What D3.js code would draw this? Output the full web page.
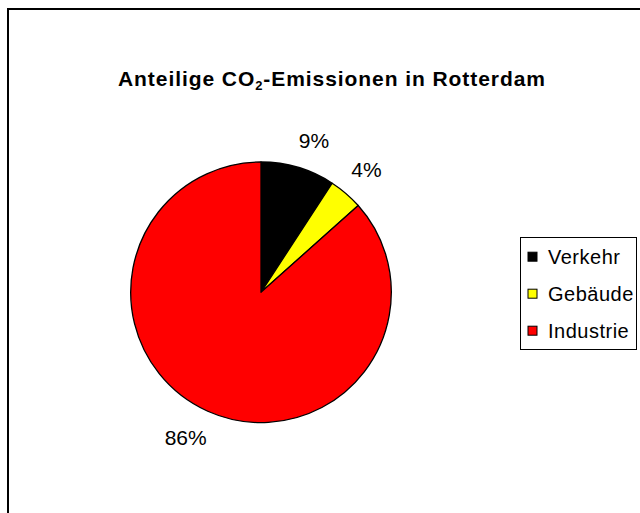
<!DOCTYPE html>
<html><head><meta charset="utf-8">
<script src="https://cdn.jsdelivr.net/npm/d3@7"></script>
<style>body{margin:0;background:#fff;}svg{display:block;font-family:"Liberation Sans",Arial,sans-serif;}</style>
</head><body>
<script>
const categories = ["Verkehr", "Gebäude", "Industrie"];
const values = [9.2, 4.2, 86.6];
const valueLabels = ["9%", "4%", "86%"];
const colors = ["#000000", "#ffff00", "#ff0000"];

const W = 640, H = 513;
const svg = d3.select("body").append("svg").attr("width", W).attr("height", H);
svg.append("rect").attr("width", W).attr("height", H).attr("fill", "#fff");
// chart border
svg.append("rect").attr("x", 8).attr("y", 9).attr("width", 700).attr("height", 600)
  .attr("fill", "none").attr("stroke", "#000").attr("stroke-width", 2);

// title
const title = svg.append("text").attr("x", 331.5).attr("y", 86).attr("text-anchor", "middle")
  .attr("font-weight", "bold").attr("font-size", 21).attr("fill", "#000")
  .attr("textLength", 427).attr("lengthAdjust", "spacing");
title.append("tspan").text("Anteilige CO");
title.append("tspan").attr("font-size", 13).attr("dy", 4).text("2");
title.append("tspan").attr("dy", -4).text("-Emissionen in Rotterdam");

const cx = 261, cy = 292.3, R = 130.3;
const pie = d3.pie().sort(null).value(d => d)(values);
const arc = d3.arc().innerRadius(0).outerRadius(R);
const g = svg.append("g").attr("transform", `translate(${cx},${cy})`);
g.selectAll("path").data(pie).join("path")
  .attr("d", arc).attr("fill", (d, i) => colors[i])
  .attr("stroke", "#000").attr("stroke-width", 1.3).attr("stroke-linejoin", "round");

// labels
const lr = R + 13;
g.selectAll("text.lbl").data(pie).join("text").attr("class", "lbl")
  .attr("font-size", 21).attr("fill", "#000").attr("text-anchor", "middle")
  .attr("dominant-baseline", "central")
  .each(function (d, i) {
    const a = (d.startAngle + d.endAngle) / 2;
    const sx = Math.sin(a), sy = -Math.cos(a);
    const t = d3.select(this).text(valueLabels[i]);
    const bb = this.getBBox();
    const x = lr * sx + Math.sign(sx) * bb.width * 0.4;
    const y = lr * sy + Math.sign(sy) * 14;
    t.attr("x", x).attr("y", y);
  });

// legend
const lg = svg.append("g");
lg.append("rect").attr("x", 520.5).attr("y", 237.5).attr("width", 116).attr("height", 112)
  .attr("fill", "#fff").attr("stroke", "#000").attr("stroke-width", 1);
const rowY = d3.scalePoint().domain(categories).range([256.7, 330.7]);
const item = lg.selectAll("g.item").data(categories).join("g").attr("class", "item")
  .attr("transform", d => `translate(0,${rowY(d)})`);
item.append("rect").attr("x", 528).attr("y", -4.5).attr("width", 9).attr("height", 9)
  .attr("fill", (d, i) => colors[i]).attr("stroke", "#000").attr("stroke-width", 1);
item.append("text").attr("x", 548).attr("y", 7).attr("font-size", 20).attr("fill", "#000")
  .attr("letter-spacing", 0.5).text(d => d);
</script>
</body></html>
